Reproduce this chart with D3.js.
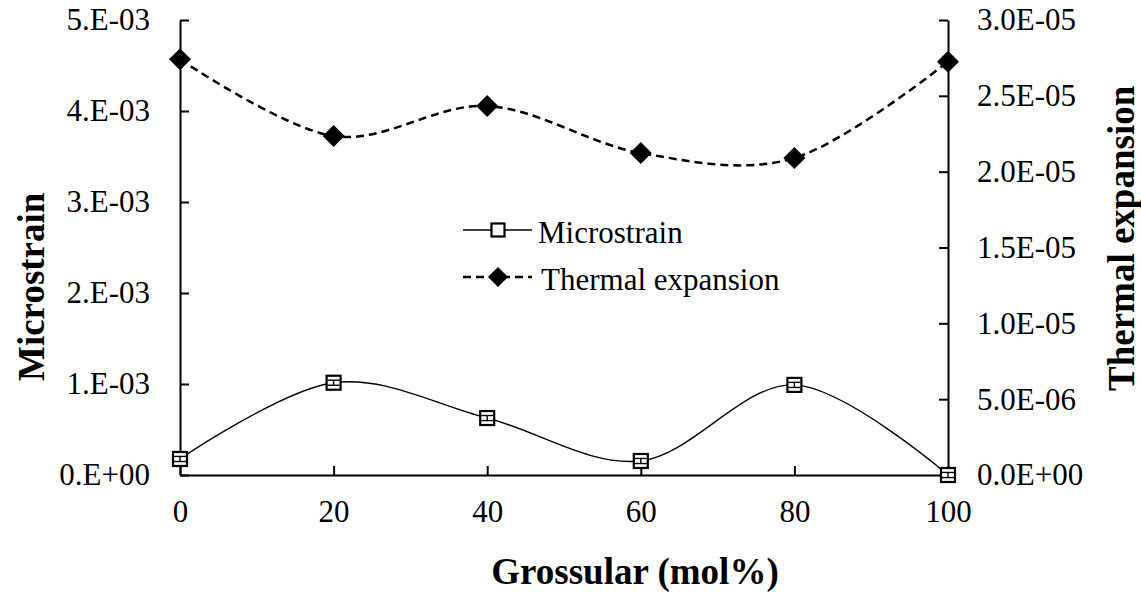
<!DOCTYPE html>
<html><head><meta charset="utf-8">
<script src="https://cdn.jsdelivr.net/npm/d3@7"></script>
<style>body{margin:0;background:#fff}svg{display:block}text{font-family:"Liberation Serif","Times New Roman",serif;fill:#000}</style>
</head><body><svg id="c" width="1141" height="596"></svg>
<script>
const categories = [0, 20, 40, 60, 80, 100];
const microstrain = [0.176e-3, 1.014e-3, 0.626e-3, 0.154e-3, 0.99e-3, 0.0];
const microstrainErr = [0.028e-3, 0.028e-3, 0.028e-3, 0.028e-3, 0.028e-3, 0.028e-3];
const thermal = [2.741e-5, 2.235e-5, 2.433e-5, 2.123e-5, 2.09e-5, 2.725e-5];
const xTicks = [0, 20, 40, 60, 80, 100];
const leftTicks = [0, 1e-3, 2e-3, 3e-3, 4e-3, 5e-3];
const leftTickLabels = ["0.E+00", "1.E-03", "2.E-03", "3.E-03", "4.E-03", "5.E-03"];
const rightTicks = [0, 0.5e-5, 1e-5, 1.5e-5, 2e-5, 2.5e-5, 3e-5];
const rightTickLabels = ["0.0E+00", "5.0E-06", "1.0E-05", "1.5E-05", "2.0E-05", "2.5E-05", "3.0E-05"];

const svg = d3.select("#c");
const L = 180, R = 948, T = 20, B = 475;
const x = d3.scaleLinear().domain([0, 100]).range([L, R]);
const yL = d3.scaleLinear().domain([0, 5e-3]).range([B, T]);
const yR = d3.scaleLinear().domain([0, 3e-5]).range([B, T]);

const ax = svg.append("g").attr("transform", `translate(0,${B})`)
  .call(d3.axisBottom(x).tickValues(xTicks).tickSizeInner(-9).tickSizeOuter(0).tickPadding(25));
const al = svg.append("g").attr("transform", `translate(${L},0)`)
  .call(d3.axisLeft(yL).tickValues(leftTicks).tickFormat((d,i)=>leftTickLabels[i]).tickSizeInner(-9).tickSizeOuter(0).tickPadding(30));
const ar = svg.append("g").attr("transform", `translate(${R},0)`)
  .call(d3.axisRight(yR).tickValues(rightTicks).tickFormat((d,i)=>rightTickLabels[i]).tickSizeInner(-9).tickSizeOuter(0).tickPadding(29));
[ax, al, ar].forEach(g => {
  g.attr("font-size", 31).attr("font-family", "Liberation Serif");
  g.select(".domain").attr("stroke", "#000").attr("stroke-width", 2);
  g.selectAll(".tick line").attr("stroke", "#000").attr("stroke-width", 2);
  g.selectAll(".tick text").attr("font-size", 31).attr("fill", "#000");
});

const curve = d3.curveCardinal.tension(0);
const lineT = d3.line().x((d,i)=>x(categories[i])).y(d=>yR(d)).curve(curve);
svg.append("path").datum(thermal).attr("d", lineT).attr("fill","none")
  .attr("stroke","#000").attr("stroke-width",2.5).attr("stroke-dasharray","8,5");
const lineM = d3.line().x((d,i)=>x(categories[i])).y(d=>yL(d)).curve(curve);
svg.append("path").datum(microstrain).attr("d", lineM).attr("fill","none")
  .attr("stroke","#000").attr("stroke-width",1.4);

const dia = s => `M0,${-s}L${s},0L0,${s}L${-s},0Z`;
svg.append("g").selectAll("path").data(thermal).join("path")
  .attr("transform",(d,i)=>`translate(${x(categories[i])},${yR(d)})`)
  .attr("d", dia(11)).attr("fill","#000");

const mg = svg.append("g").selectAll("g").data(microstrain).join("g")
  .attr("transform",(d,i)=>`translate(${x(categories[i])},0)`);
mg.append("rect").attr("x",-7).attr("y",d=>yL(d)-7).attr("width",14).attr("height",14)
  .attr("fill","#fff").attr("stroke","#000").attr("stroke-width",2.2);
mg.append("line").attr("x1",0).attr("x2",0)
  .attr("y1",(d,i)=>yL(d+microstrainErr[i])).attr("y2",(d,i)=>yL(d-microstrainErr[i]))
  .attr("stroke","#000").attr("stroke-width",1.4);
mg.append("line").attr("x1",-6).attr("x2",6)
  .attr("y1",(d,i)=>yL(d+microstrainErr[i])).attr("y2",(d,i)=>yL(d+microstrainErr[i]))
  .attr("stroke","#000").attr("stroke-width",1.4);
mg.append("line").attr("x1",-6).attr("x2",6)
  .attr("y1",(d,i)=>yL(d-microstrainErr[i])).attr("y2",(d,i)=>yL(d-microstrainErr[i]))
  .attr("stroke","#000").attr("stroke-width",1.4);

// legend
const lg = svg.append("g");
lg.append("line").attr("x1",463).attr("x2",532).attr("y1",230).attr("y2",230).attr("stroke","#000").attr("stroke-width",1.4);
lg.append("rect").attr("x",491.5).attr("y",223.5).attr("width",13).attr("height",13).attr("fill","#fff").attr("stroke","#000").attr("stroke-width",2.2);
lg.append("text").attr("x",538).attr("y",243).attr("font-size",31).text("Microstrain");
lg.append("line").attr("x1",463).attr("x2",532).attr("y1",277).attr("y2",277).attr("stroke","#000").attr("stroke-width",2.5).attr("stroke-dasharray","8,5");
lg.append("path").attr("transform","translate(498,277)").attr("d",dia(10)).attr("fill","#000");
lg.append("text").attr("x",541).attr("y",290).attr("font-size",31).text("Thermal expansion");

// titles
svg.append("text").attr("x",635).attr("y",584).attr("text-anchor","middle")
  .attr("font-size",37).attr("font-weight","bold").text("Grossular (mol%)");
svg.append("text").attr("transform","translate(44,381) rotate(-90)").attr("text-anchor","start")
  .attr("font-size",37).attr("font-weight","bold").text("Microstrain");
svg.append("text").attr("transform","translate(1134,391) rotate(-90)").attr("text-anchor","start")
  .attr("font-size",37).attr("font-weight","bold").text("Thermal expansion");
</script></body></html>
